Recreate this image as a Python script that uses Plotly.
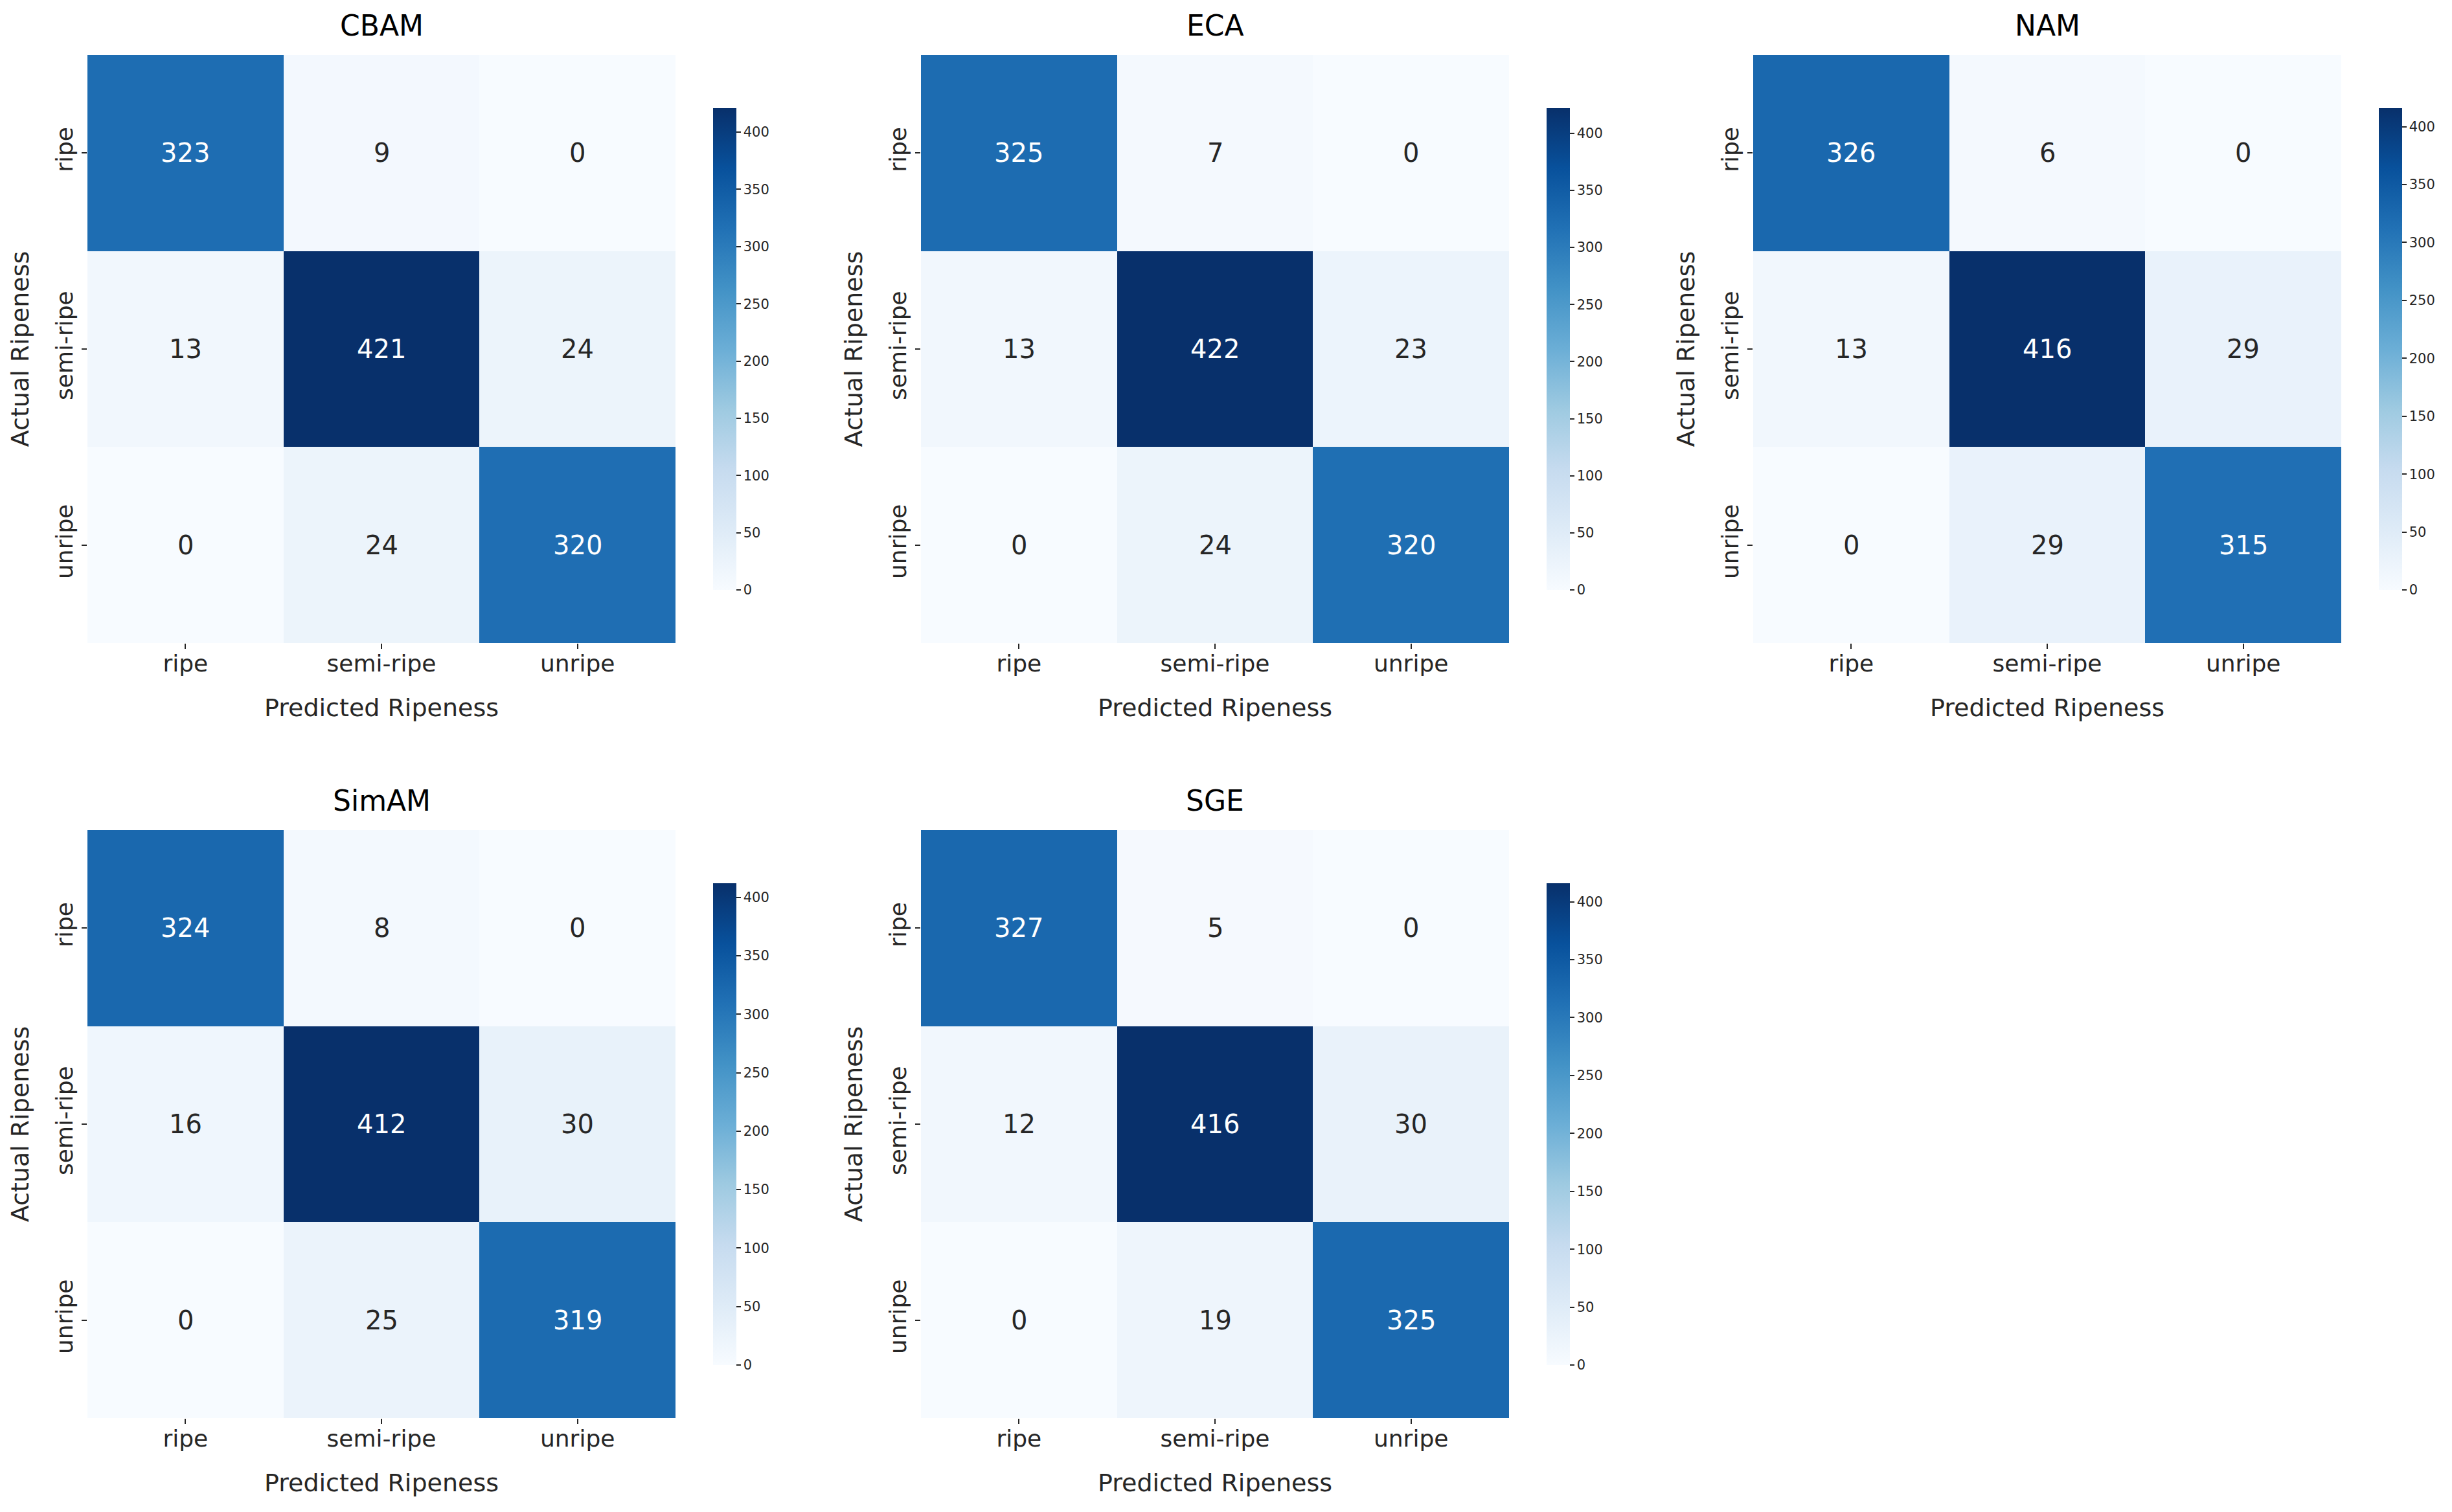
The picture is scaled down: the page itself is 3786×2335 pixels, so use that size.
import plotly.graph_objects as go

labels = ["ripe", "semi-ripe", "unripe"]
models = ["CBAM", "ECA", "NAM", "SimAM", "SGE"]

cbam = [[323, 9, 0], [13, 421, 24], [0, 24, 320]]
eca = [[325, 7, 0], [13, 422, 23], [0, 24, 320]]
nam = [[326, 6, 0], [13, 416, 29], [0, 29, 315]]
simam = [[324, 8, 0], [16, 412, 30], [0, 25, 319]]
sge = [[327, 5, 0], [12, 416, 30], [0, 19, 325]]
matrices = [cbam, eca, nam, simam, sge]

cb_ticks = [0, 50, 100, 150, 200, 250, 300, 350, 400]

# the page body adds an 8 px margin, so the figure is drawn 16 px smaller
# and every pixel position below is taken relative to that offset
PAD = 8
W, H = 3786 - 2 * PAD, 2335 - 2 * PAD
FONT = "DejaVu Sans"
INK = "#262626"

# panel pixel boxes (left, top) in the reference; heatmaps are ~908 px square
col_left = [135, 1422, 2707]
row_top = [85, 1282]
SIZE = 908
CB_GAP = 58
CB_THICK = 36
CB_LEN = 744

fig = go.Figure()

for i, (name, z) in enumerate(zip(models, matrices)):
    r, c = divmod(i, 3)
    n = i + 1
    xa = "x" if n == 1 else f"x{n}"
    ya = "y" if n == 1 else f"y{n}"
    left, top = col_left[c] - PAD, row_top[r] - PAD
    x0, x1 = left / W, (left + SIZE) / W
    y1, y0 = 1 - top / H, 1 - (top + SIZE) / H
    zmax = max(max(row) for row in z)

    fig.add_trace(
        go.Heatmap(
            z=z,
            x=labels,
            y=labels,
            xaxis=xa,
            yaxis=ya,
            colorscale="Blues",
            zmin=0,
            zmax=zmax,
            colorbar=dict(
                x=(left + SIZE + CB_GAP) / W,
                xanchor="left",
                y=(y0 + y1) / 2,
                yanchor="middle",
                len=CB_LEN,
                lenmode="pixels",
                thickness=CB_THICK,
                thicknessmode="pixels",
                outlinewidth=0,
                tickvals=cb_ticks,
                ticks="outside",
                ticklen=7,
                tickwidth=2,
                tickcolor=INK,
                tickfont=dict(family=FONT, size=21, color=INK),
                xpad=0,
                ypad=0,
            ),
        )
    )

    fig.update_layout(
        {
            f"xaxis{'' if n == 1 else n}": dict(
                domain=[x0, x1],
                anchor=ya,
                ticks="outside",
                ticklen=8,
                tickwidth=1.5,
                tickcolor=INK,
                showgrid=False,
                zeroline=False,
                showline=False,
                ticklabelstandoff=-8,
                tickfont=dict(family=FONT, size=36, color=INK),
                title=dict(
                    text="Predicted Ripeness",
                    font=dict(family=FONT, size=38, color=INK),
                    standoff=35,
                ),
            ),
            f"yaxis{'' if n == 1 else n}": dict(
                domain=[y0, y1],
                anchor=xa,
                autorange="reversed",
                ticks="outside",
                ticklen=8,
                tickwidth=1.5,
                tickcolor=INK,
                showgrid=False,
                zeroline=False,
                showline=False,
                tickangle=-90,
                tickfont=dict(family=FONT, size=36, color=INK),
                title=dict(
                    text="Actual Ripeness",
                    font=dict(family=FONT, size=38, color=INK),
                    standoff=22,
                ),
            ),
        }
    )

    fig.add_annotation(
        text=name,
        xref=f"{xa} domain",
        yref=f"{ya} domain",
        x=0.5,
        y=1,
        xanchor="center",
        yanchor="bottom",
        yshift=18,
        showarrow=False,
        font=dict(family=FONT, size=44, color="black"),
    )

    for yi, row_label in enumerate(labels):
        for xi, col_label in enumerate(labels):
            v = z[yi][xi]
            fig.add_annotation(
                text=str(v),
                x=col_label,
                y=row_label,
                xref=xa,
                yref=ya,
                showarrow=False,
                font=dict(
                    family=FONT,
                    size=40,
                    color="white" if v / zmax > 0.5 else INK,
                ),
            )

fig.update_layout(
    width=W,
    height=H,
    margin=dict(l=0, r=0, t=0, b=0),
    paper_bgcolor="white",
    plot_bgcolor="white",
    font=dict(family=FONT, color=INK),
)

fig.write_html("out.html")
